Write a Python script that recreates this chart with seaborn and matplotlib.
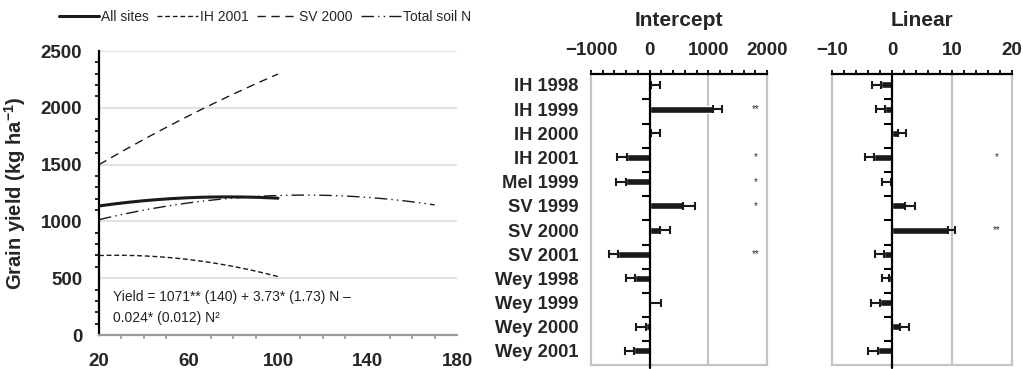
import numpy as np
import pandas as pd
import matplotlib
matplotlib.use("Agg")
import matplotlib.pyplot as plt
from matplotlib.lines import Line2D
from matplotlib.ticker import MultipleLocator, FixedLocator
import seaborn as sns

# ---- response curves: quadratic coefficients (a + b*N + c*N^2) and N range
all_sites_coef = [1071, 3.73, -0.024]
all_sites_range = [20, 100]
ih2001_coef = [674, 2.0, -0.036]
ih2001_range = [20, 100]
sv2000_coef = [1262, 12.25, -0.019]
sv2000_range = [20, 100]
soil_n_coef = [911, 5.73, -0.0256]
soil_n_range = [20, 170]
n_ticks = [20, 60, 100, 140, 180]

# ---- site-year deviations
sites = ["IH 1998", "IH 1999", "IH 2000", "IH 2001", "Mel 1999", "SV 1999",
         "SV 2000", "SV 2001", "Wey 1998", "Wey 1999", "Wey 2000", "Wey 2001"]
intercept = [15, 1080, 15, -385, -410, 560, 180, -535, -250, 10, -70, -272]
intercept_se = [160, 160, 165, 165, 160, 210, 160, 160, 160, 175, 160, 155]
intercept_sig = ["", "**", "", "*", "*", "*", "", "**", "", "", "", ""]
linear = [-1.85, -1.2, 1.0, -3.05, -0.2, 2.1, 9.3, -1.4, -0.45, -2.05, 1.4, -2.4]
linear_se = [1.5, 1.4, 1.4, 1.4, 1.45, 1.8, 1.25, 1.4, 1.2, 1.45, 1.4, 1.6]
linear_sig = ["", "", "", "*", "", "", "**", "", "", "", "", ""]

sns.set_theme(style="white")
plt.rcParams["font.family"] = ["Liberation Sans", "DejaVu Sans"]
plt.rcParams["mathtext.fontset"] = "custom"
plt.rcParams["mathtext.rm"] = "Liberation Sans"
plt.rcParams["mathtext.bf"] = "Liberation Sans:bold"

W, H = 1023, 369
fig = plt.figure(figsize=(W / 100, H / 100), dpi=100)


def px_axes(x0, x1, y0, y1):
    return fig.add_axes([x0 / W, 1 - y1 / H, (x1 - x0) / W, (y1 - y0) / H])


GRID = "#e2e2e2"
EDGE = "#c4c4c4"
INK = "#1a1a1a"

# ================= left: yield response curves =================
ax = px_axes(99, 457, 51, 335)


def curve(coef, rng, label):
    n = np.linspace(rng[0], rng[1], 200)
    y = coef[0] + coef[1] * n + coef[2] * n ** 2
    return pd.DataFrame({"N": n, "Yield": y, "curve": label})


curves = pd.concat([
    curve(all_sites_coef, all_sites_range, "All sites"),
    curve(ih2001_coef, ih2001_range, "IH 2001"),
    curve(sv2000_coef, sv2000_range, "SV 2000"),
    curve(soil_n_coef, soil_n_range, "Total soil N"),
])

styles = {
    "All sites": dict(lw=2.2, ls="-"),
    "IH 2001": dict(lw=1.0, ls=(0, (3.5, 2))),
    "SV 2000": dict(lw=1.0, ls=(0, (6, 4))),
    "Total soil N": dict(lw=1.0, ls=(0, (9, 3, 1, 3, 1, 3))),
}

for name, st in styles.items():
    sub = curves[curves["curve"] == name]
    sns.lineplot(data=sub, x="N", y="Yield", ax=ax, color=INK,
                 linewidth=st["lw"], linestyle=st["ls"], legend=False,
                 zorder=3)

ax.set_xlim(20, 180)
ax.set_ylim(0, 2500)
ax.xaxis.set_major_locator(FixedLocator(n_ticks))
ax.xaxis.set_minor_locator(MultipleLocator(10))
ax.yaxis.set_major_locator(MultipleLocator(500))
ax.yaxis.set_minor_locator(MultipleLocator(100))
for v in range(500, 2501, 500):
    ax.axhline(v, color=GRID, lw=1.5, zorder=0)
for s in ["top", "right"]:
    ax.spines[s].set_visible(False)
ax.spines["left"].set_color("black")
ax.spines["left"].set_linewidth(1.6)
ax.spines["bottom"].set_color("#9a9a9a")
ax.spines["bottom"].set_linewidth(1.6)
ax.tick_params(axis="y", which="major", direction="out", length=4, width=1.3,
               color="black", pad=8, labelsize=13.5)
ax.tick_params(axis="y", which="minor", direction="out", length=3, width=1.2,
               color="black", left=True)
ax.tick_params(axis="x", which="major", direction="out", length=4, width=1.3,
               color="#9a9a9a", pad=9, labelsize=13.5)
ax.tick_params(axis="x", which="minor", direction="out", length=3, width=1.2,
               color="#9a9a9a", bottom=True)
for lab in ax.get_xticklabels() + ax.get_yticklabels():
    lab.set_fontweight("bold")
ax.set_xlabel("")
ax.set_ylabel(r"Grain yield (kg ha$^{\mathbf{-1}}$)", fontsize=14.5,
              fontweight="bold")
ax.yaxis.set_label_coords(-0.198, 0.5)

ax.text(0.04, 0.135, "Yield = 1071** (140) + 3.73* (1.73) N \u2013",
        transform=ax.transAxes, fontsize=10, ha="left", va="center",
        color="#222222")
ax.text(0.04, 0.06, "0.024* (0.012) N\u00b2",
        transform=ax.transAxes, fontsize=10, ha="left", va="center",
        color="#222222")

handles = [Line2D([], [], color=INK, lw=st["lw"], ls=st["ls"])
           for st in styles.values()]
fig.legend(handles, list(styles.keys()), loc="center",
           bbox_to_anchor=(265 / W, 1 - 17 / H), ncol=4, frameon=False,
           fontsize=10, handlelength=2.9, handletextpad=0.15,
           columnspacing=0.6)

# ================= right: intercept and linear deviations =================
bars = pd.DataFrame({"site": sites, "Intercept": intercept,
                     "Intercept_se": intercept_se,
                     "Intercept_sig": intercept_sig,
                     "Linear": linear, "Linear_se": linear_se,
                     "Linear_sig": linear_sig})

panels = [
    ("Intercept", px_axes(591, 767, 74, 365), (-1000, 2000), 1000, 200, 1800),
    ("Linear", px_axes(832, 1012, 74, 365), (-10, 20), 10, 2, 17.5),
]
ypos = np.arange(len(sites))

for i, (col, bx, lim, major, minor, star_x) in enumerate(panels):
    sns.barplot(data=bars, x=col, y="site", orient="h", color=INK,
                width=0.29, ax=bx, saturation=1, errorbar=None, zorder=3)
    vals = bars[col].to_numpy()
    se = bars[col + "_se"].to_numpy()
    lower = np.where(vals < 0, se, 0)
    upper = np.where(vals >= 0, se, 0)
    bx.errorbar(vals, ypos, xerr=[lower, upper], fmt="none", ecolor=INK,
                elinewidth=1.5, capsize=3, capthick=1.5, zorder=4)
    for y, s in zip(ypos, bars[col + "_sig"]):
        if s:
            bx.text(star_x, y, s, ha="center", va="center", fontsize=7,
                    color="#333333")

    bx.set_xlim(*lim)
    bx.set_ylim(11.58, -0.45)
    bx.xaxis.set_major_locator(MultipleLocator(major))
    bx.xaxis.set_minor_locator(MultipleLocator(minor))
    bx.xaxis.tick_top()
    bx.tick_params(axis="x", which="both", direction="out", length=3,
                   width=1.3, color="black", top=True, bottom=False)
    bx.tick_params(axis="x", which="major", pad=8, labelsize=13.5)
    for lab in bx.get_xticklabels():
        lab.set_fontweight("bold")
    bx.set_xlabel("")
    bx.set_ylabel("")

    bx.spines["top"].set_color("black")
    bx.spines["top"].set_linewidth(1.6)
    for s in ["left", "right", "bottom"]:
        bx.spines[s].set_color(EDGE)
        bx.spines[s].set_linewidth(1.6)
    bx.axvline(major, color=EDGE, lw=1.6, zorder=0)
    bx.axvline(0, color="black", lw=1.6, zorder=5, ymin=-0.012, clip_on=False)
    # category separators drawn as short ticks to the left of the zero line
    bx.plot(np.zeros(len(sites) - 1), ypos[:-1] + 0.6, ls="none",
            marker=0, markersize=6, markeredgewidth=1.5, color="black",
            zorder=5)

    if i == 0:
        bx.set_yticks(ypos)
        bx.set_yticklabels(sites, fontsize=13.2, fontweight="bold")
        bx.tick_params(axis="y", length=0, pad=9)
    else:
        bx.set_yticks([])

    x0, x1 = bx.get_position().x0, bx.get_position().x1
    fig.text((x0 + x1) / 2, 1 - 20 / H, col, ha="center", va="center",
             fontsize=15, fontweight="bold")

fig.savefig("out.png", dpi=100)
